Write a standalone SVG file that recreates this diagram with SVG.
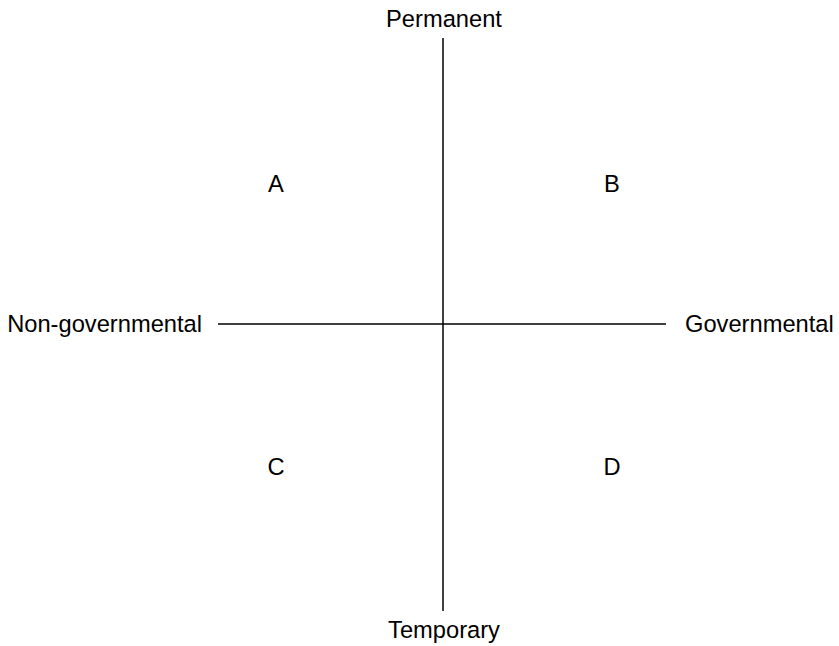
<svg xmlns="http://www.w3.org/2000/svg" width="839" height="646" viewBox="0 0 839 646">
<style>
text{font-family:"Liberation Sans",Arial,sans-serif;font-size:23.7px;fill:#000}
.ax{stroke:#000;stroke-width:1.5;fill:none}
</style>
<rect width="839" height="646" fill="#fff"/>
<g id="connectors">
<line class="ax" x1="443" y1="38" x2="443" y2="611"/>
<line class="ax" x1="218" y1="324" x2="666" y2="324"/>
</g>
<g id="permanent"><text x="444" y="27" text-anchor="middle">Permanent</text></g>
<g id="temporary"><text x="444" y="638" text-anchor="middle">Temporary</text></g>
<g id="nongov"><text x="202" y="332" text-anchor="end">Non-governmental</text></g>
<g id="gov"><text x="685" y="332">Governmental</text></g>
<g id="A"><text x="276" y="192" text-anchor="middle">A</text></g>
<g id="B"><text x="612" y="192" text-anchor="middle">B</text></g>
<g id="C"><text x="276" y="475" text-anchor="middle">C</text></g>
<g id="D"><text x="612" y="475" text-anchor="middle">D</text></g>
</svg>
